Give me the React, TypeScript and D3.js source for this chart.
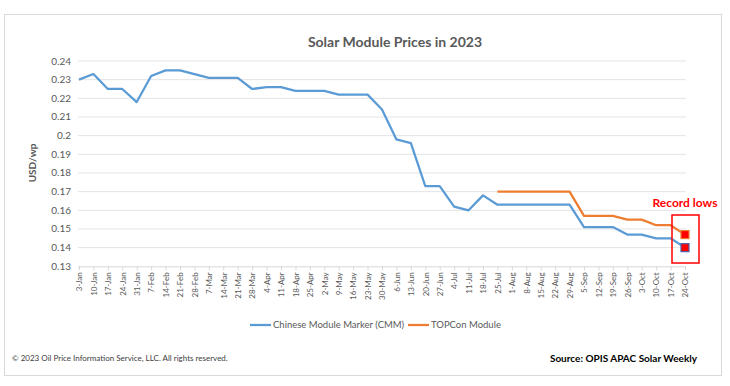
import * as d3 from "d3";
import React, {useEffect, useRef} from "react";

const weeks: string[] = [
  '3-Jan', '10-Jan', '17-Jan', '24-Jan', '31-Jan',
  '7-Feb', '14-Feb', '21-Feb', '28-Feb',
  '7-Mar', '14-Mar', '21-Mar', '28-Mar',
  '4-Apr', '11-Apr', '18-Apr', '25-Apr',
  '2-May', '9-May', '16-May', '23-May', '30-May',
  '6-Jun', '13-Jun', '20-Jun', '27-Jun',
  '4-Jul', '11-Jul', '18-Jul', '25-Jul',
  '1-Aug', '8-Aug', '15-Aug', '22-Aug', '29-Aug',
  '5-Sep', '12-Sep', '19-Sep', '26-Sep',
  '3-Oct', '10-Oct', '17-Oct', '24-Oct',
];

const cmmPrices: number[] = [
  0.230, 0.233, 0.225, 0.225, 0.218,
  0.232, 0.235, 0.235, 0.233,
  0.231, 0.231, 0.231, 0.225,
  0.226, 0.226, 0.224, 0.224,
  0.224, 0.222, 0.222, 0.222, 0.214,
  0.198, 0.196, 0.173, 0.173,
  0.162, 0.160, 0.168, 0.163,
  0.163, 0.163, 0.163, 0.163, 0.163,
  0.151, 0.151, 0.151, 0.147,
  0.147, 0.145, 0.145, 0.140,
];

const topconPrices: (number | null)[] = [
  null, null, null, null, null,
  null, null, null, null,
  null, null, null, null,
  null, null, null, null,
  null, null, null, null, null,
  null, null, null, null,
  null, null, null, 0.170,
  0.170, 0.170, 0.170, 0.170, 0.170,
  0.157, 0.157, 0.157, 0.155,
  0.155, 0.152, 0.152, 0.147,
];

const yTicks: number[] = [0.13, 0.14, 0.15, 0.16, 0.17, 0.18, 0.19, 0.2, 0.21, 0.22, 0.23, 0.24];

const seriesNames = ['Chinese Module Marker (CMM)', 'TOPCon Module'];

const BLUE = '#5b9bd5';
const ORANGE = '#ed7d31';
const GREY_TEXT = '#595959';
const FONT = 'Lato, "Open Sans", sans-serif';

const SolarChart: React.FC = () => {
  const ref = useRef<SVGSVGElement | null>(null);

  useEffect(() => {
    const width = 730;
    const height = 386;
    const svg = d3.select(ref.current);
    svg.selectAll('*').remove();
    svg.attr('width', width).attr('height', height);

    // outer frame
    svg.append('rect')
      .attr('x', 4.5).attr('y', 14.5)
      .attr('width', 717).attr('height', 361)
      .attr('fill', '#fff')
      .attr('stroke', '#d9d9d9');

    const xScale = d3.scalePoint<string>()
      .domain(weeks)
      .range([79, 685]);

    const yScale = d3.scaleLinear()
      .domain([0.13, 0.24])
      .range([266.3, 61]);

    // title
    svg.append('text')
      .attr('x', 395).attr('y', 47)
      .attr('text-anchor', 'middle')
      .attr('fill', GREY_TEXT)
      .style('font-family', FONT)
      .style('font-size', '14px')
      .style('font-weight', '700')
      .text('Solar Module Prices in 2023');

    // grid lines
    svg.append('g')
      .selectAll('line')
      .data(yTicks.slice(1))
      .enter()
      .append('line')
      .attr('x1', 78).attr('x2', 686)
      .attr('y1', (d) => yScale(d)).attr('y2', (d) => yScale(d))
      .attr('stroke', '#e3e3e3')
      .attr('stroke-width', 1);

    // y tick labels
    const fmt = d3.format('.2~f');
    svg.append('g')
      .selectAll('text')
      .data(yTicks)
      .enter()
      .append('text')
      .attr('x', 71)
      .attr('y', (d) => yScale(d))
      .attr('dy', '0.35em')
      .attr('text-anchor', 'end')
      .attr('fill', GREY_TEXT)
      .style('font-family', FONT)
      .style('font-size', '10px')
      .text((d) => fmt(d));

    // y axis title
    svg.append('g')
      .attr('transform', 'translate(32, 163)')
      .append('text')
      .attr('text-anchor', 'middle')
      .attr('transform', 'rotate(-90)')
      .attr('dy', '0.35em')
      .attr('fill', GREY_TEXT)
      .style('font-family', FONT)
      .style('font-size', '10px')
      .style('font-weight', '700')
      .text('USD/wp');

    // x axis
    const xAxis = svg.append('g')
      .attr('transform', `translate(0, ${yScale(0.13)})`)
      .call(d3.axisBottom(xScale).tickSize(4).tickPadding(3));
    xAxis.select('.domain')
      .attr('d', 'M78,0.5H686')
      .attr('stroke', '#d9d9d9');
    xAxis.selectAll('.tick line').attr('stroke', '#d9d9d9');
    xAxis.selectAll('.tick text')
      .attr('transform', 'rotate(-90)')
      .attr('text-anchor', 'end')
      .attr('x', -6)
      .attr('y', 0)
      .attr('dy', '0.35em')
      .attr('fill', GREY_TEXT)
      .style('font-family', FONT)
      .style('font-size', '8px');

    // lines
    const cmmData = weeks.map((w, i) => ({week: w, value: cmmPrices[i] as number | null}));
    const topconData = weeks.map((w, i) => ({week: w, value: topconPrices[i]}));

    const line = d3.line<{week: string, value: number | null}>()
      .defined((d) => d.value !== null)
      .x((d) => xScale(d.week) as number)
      .y((d) => yScale(d.value as number));

    svg.append('path')
      .datum(cmmData)
      .attr('d', line)
      .attr('fill', 'none')
      .attr('stroke', BLUE)
      .attr('stroke-width', 2.25)
      .attr('stroke-linejoin', 'round');

    svg.append('path')
      .datum(topconData)
      .attr('d', line)
      .attr('fill', 'none')
      .attr('stroke', ORANGE)
      .attr('stroke-width', 2.25)
      .attr('stroke-linejoin', 'round');

    // record low markers on the last week
    const last = weeks.length - 1;
    const markers = [
      {value: topconPrices[last] as number, color: ORANGE},
      {value: cmmPrices[last], color: '#4a5fa8'},
    ];
    svg.append('g')
      .selectAll('rect')
      .data(markers)
      .enter()
      .append('rect')
      .attr('x', (xScale(weeks[last]) as number) - 4)
      .attr('y', (d) => yScale(d.value) - 4)
      .attr('width', 8).attr('height', 8)
      .attr('fill', '#ff0000')
      .attr('stroke', (d) => d.color)
      .attr('stroke-width', 1.2);

    // callout box
    const bx = (xScale(weeks[last]) as number) - 13;
    svg.append('rect')
      .attr('x', bx).attr('y', 215)
      .attr('width', 27).attr('height', 48)
      .attr('fill', 'none')
      .attr('stroke', '#ff0000')
      .attr('stroke-width', 1.5);

    svg.append('text')
      .attr('x', 685).attr('y', 207)
      .attr('text-anchor', 'middle')
      .attr('fill', '#ff0000')
      .style('font-family', FONT)
      .style('font-size', '12px')
      .style('font-weight', '700')
      .text('Record lows');

    // legend
    const legend = svg.append('g')
      .attr('transform', 'translate(0, 325)');
    const legendItems = [
      {name: seriesNames[0], color: BLUE, x: 250},
      {name: seriesNames[1], color: ORANGE, x: 408},
    ];
    const li = legend.selectAll('.legend-item')
      .data(legendItems)
      .enter()
      .append('g')
      .attr('class', 'legend-item')
      .attr('transform', (d) => `translate(${d.x}, 0)`);
    li.append('line')
      .attr('x1', 0).attr('x2', 21)
      .attr('stroke', (d) => d.color)
      .attr('stroke-width', 2.25);
    li.append('text')
      .attr('x', 23)
      .attr('dy', '0.35em')
      .attr('fill', GREY_TEXT)
      .style('font-family', FONT)
      .style('font-size', '9.5px')
      .text((d) => d.name);

    // footer
    svg.append('text')
      .attr('x', 12).attr('y', 361)
      .attr('fill', '#404040')
      .style('font-family', FONT)
      .style('font-size', '8px')
      .text('\u00a9 2023 Oil Price Information Service, LLC. All rights reserved.');

    svg.append('text')
      .attr('x', 697).attr('y', 362)
      .attr('text-anchor', 'end')
      .attr('fill', '#000')
      .style('font-family', FONT)
      .style('font-size', '10px')
      .style('font-weight', '700')
      .text('Source: OPIS APAC Solar Weekly');

    return () => {
      svg.selectAll('*').remove();
    };
  }, []);

  return <svg ref={ref} style={{position: 'absolute', left: 0, top: 0}}/>;
};

export default function App() {
  return <SolarChart/>;
}
